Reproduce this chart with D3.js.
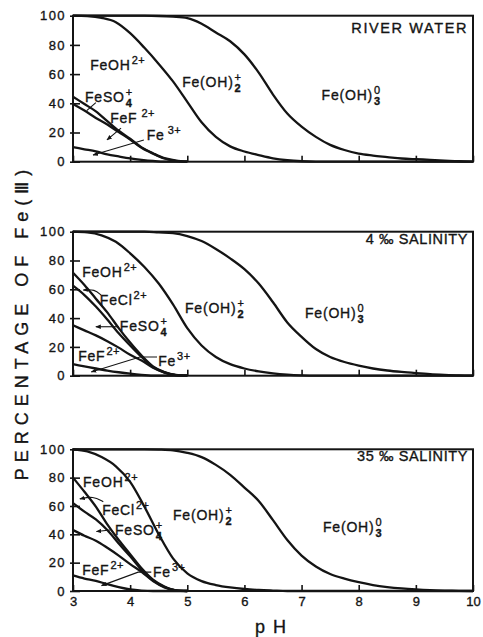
<!DOCTYPE html>
<html>
<head>
<meta charset="utf-8">
<script src="https://cdn.jsdelivr.net/npm/d3@7"></script>
<style>
  body { margin: 0; background: #fff; }
  svg { display: block; }
  text { font-family: "Liberation Sans", Arial, Helvetica, sans-serif; fill: #141414;
         stroke: #141414; stroke-width: 0.35; paint-order: stroke; }
</style>
</head>
<body>
<svg id="chart" width="483" height="637"></svg>
<script>
// pH grids shared by the curves
const phGrid = [3, 3.25, 3.5, 3.75, 4, 4.25, 4.5, 4.75, 5, 5.25, 5.5, 5.75, 6, 6.25, 6.5, 6.75,
                7, 7.25, 7.5, 7.75, 8, 8.25, 8.5, 8.75, 9, 9.25, 9.5, 9.75, 10];
const phLow = [3, 3.2, 3.4, 3.6, 3.8, 4.0, 4.2, 4.4, 4.6, 4.8, 5.0];

// Cumulative percentages of Fe(III): each curve is the boundary between two species fields.
// River water
const riverBelowFeOH3 = [100, 100, 100, 100, 100, 100, 99.8, 99.3, 98.3, 94.5, 88.5, 82.5, 73.5, 61, 46, 33,
                         24, 17, 11.5, 8, 5.5, 4.2, 3.2, 2.2, 1.7, 1.3, 0.8, 0.3, 0];
const riverBelowFeOH2 = [100, 99.7, 98.5, 95.5, 88, 78, 67, 55, 41, 27, 17, 10.5, 7, 4.5, 2.3, 1,
                         0.3, 0, 0, 0, 0, 0, 0, 0, 0, 0, 0, 0, 0];
const riverBelowFeOH  = [44.5, 39.5, 34.5, 27.8, 21.2, 15.7, 9.8, 5.8, 2.4, 0.8, 0];
const riverBelowFeSO4 = [39.5, 35, 30, 25.5, 20.3, 15.2, 9.5, 5.5, 2.2, 0.6, 0];
const riverBelowFeF   = [10, 8.5, 7, 5, 3.6, 2.3, 1.3, 0.5, 0, 0, 0];

// 4 per mil salinity
const s4BelowFeOH3 = [100, 100, 100, 100, 100, 100, 99.5, 99, 97, 93.5, 88, 81.5, 74, 64, 51, 37,
                      27, 18.5, 13, 9.5, 7, 5, 3.6, 2.6, 1.8, 1.1, 0.6, 0.2, 0];
const s4BelowFeOH2 = [100, 99.5, 97.5, 93, 85, 75.5, 64, 49.5, 33, 21, 13, 8, 5, 3, 1.6, 0.7,
                      0.2, 0, 0, 0, 0, 0, 0, 0, 0, 0, 0, 0, 0];
const s4BelowFeOH  = [71.5, 63, 53.5, 44, 33, 23, 14, 6.5, 2.5, 0.5, 0];
const s4BelowFeCl  = [62.5, 56, 48, 39, 29.5, 21, 13, 6, 2.3, 0.4, 0];
const s4BelowFeSO4 = [35, 31.5, 28, 24, 19.5, 14.5, 10.5, 5.5, 2.2, 0.4, 0];
const s4BelowFeF   = [8, 6.5, 5, 3.6, 2.4, 1.4, 0.6, 0.1, 0, 0, 0];

// 35 per mil salinity
const s35BelowFeOH3 = [100, 100, 100, 100, 100, 100, 99.8, 99.3, 97.5, 94.5, 89, 82, 73, 63.5, 50, 36,
                       25, 17.3, 12, 8.7, 6.2, 4.2, 2.8, 1.8, 1.1, 0.6, 0.3, 0.1, 0];
const s35BelowFeOH2 = [100, 98.5, 94.5, 88, 77, 59.5, 40, 23, 12.5, 7, 4.2, 2.5, 1.4, 0.7, 0.3, 0,
                       0, 0, 0, 0, 0, 0, 0, 0, 0, 0, 0, 0, 0];
const s35BelowFeOH  = [80, 70, 59.5, 47, 36, 26, 16, 8, 3.2, 0.5, 0];
const s35BelowFeCl  = [62, 56, 50.5, 43, 33.5, 24.5, 15, 7.5, 2.8, 0.4, 0];
const s35BelowFeSO4 = [43, 39, 35.5, 30.5, 25, 19, 13.5, 7, 2.6, 0.4, 0];
const s35BelowFeF   = [11, 8.8, 7.2, 4.8, 2.7, 1.1, 0.3, 0, 0, 0, 0];

// Axis ticks
const xTicks = [3, 4, 5, 6, 7, 8, 9, 10];
const yTicks = [0, 20, 40, 60, 80, 100];

const svg = d3.select("#chart");
const x = d3.scaleLinear().domain([3, 10]).range([73, 473]);

const panels = [
  { title: "RIVER WATER", top: 15.7, bottom: 161.7, showX: false,
    hydroxo: [riverBelowFeOH3, riverBelowFeOH2],
    complexes: [riverBelowFeOH, riverBelowFeSO4, riverBelowFeF] },
  { title: "4 \u2030 SALINITY", top: 231.7, bottom: 375.7, showX: false,
    hydroxo: [s4BelowFeOH3, s4BelowFeOH2],
    complexes: [s4BelowFeOH, s4BelowFeCl, s4BelowFeSO4, s4BelowFeF] },
  { title: "35 \u2030 SALINITY", top: 449.3, bottom: 591, showX: true,
    hydroxo: [s35BelowFeOH3, s35BelowFeOH2],
    complexes: [s35BelowFeOH, s35BelowFeCl, s35BelowFeSO4, s35BelowFeF] }
];

// species labels and leader lines, in pH / percent units
const annotations = [
  { labels: [
      { t: ["FeOH", null, "2+"], p: 3.30, v: 63 },
      { t: ["Fe(OH)", "2", "+"], p: 4.91, v: 51.3 },
      { t: ["Fe(OH)", "3", "0"], p: 7.35, v: 42.3 },
      { t: ["FeSO", "4", "+"], p: 3.21, v: 41.2 },
      { t: ["FeF", null, "2+"], p: 3.65, v: 26.4, gap: 4 },
      { t: ["Fe", null, "3+"], p: 4.29, v: 14.9, gap: 3 } ],
    leaders: [
      { pts: [[3.40, 40.5], [3.24, 35]], arrow: false },
      { pts: [[3.84, 23], [3.595, 14.9]], arrow: true },
      { pts: [[4.24, 14.9], [3.35, 4.6]], arrow: true } ] },
  { labels: [
      { t: ["FeOH", null, "2+"], p: 3.16, v: 68.5 },
      { t: ["FeCl", null, "2+"], p: 3.47, v: 49 },
      { t: ["FeSO", "4", "+"], p: 3.82, v: 31 },
      { t: ["FeF", null, "2+"], p: 3.09, v: 10.2 },
      { t: ["Fe", null, "3+"], p: 4.49, v: 6.7 },
      { t: ["Fe(OH)", "2", "+"], p: 4.96, v: 43.5 },
      { t: ["Fe(OH)", "3", "0"], p: 7.06, v: 40 } ],
    leaders: [
      { pts: [[3.49, 56], [3.38, 60], [3.18, 59.5]], arrow: true, curved: true },
      { pts: [[3.80, 34], [3.40, 34]], arrow: true },
      { pts: [[4.47, 13], [4.17, 13], [3.32, 2.6]], arrow: true } ] },
  { labels: [
      { t: ["FeOH", null, "2+"], p: 3.175, v: 73.4 },
      { t: ["FeCl", null, "2+"], p: 3.51, v: 53.6 },
      { t: ["FeSO", "4", "+"], p: 3.735, v: 39.5 },
      { t: ["FeF", null, "2+"], p: 3.16, v: 11.3 },
      { t: ["Fe", null, "3+"], p: 4.40, v: 9.9 },
      { t: ["Fe(OH)", "2", "+"], p: 4.75, v: 50 },
      { t: ["Fe(OH)", "3", "0"], p: 7.375, v: 41.6 } ],
    leaders: [
      { pts: [[3.53, 63], [3.35, 67], [3.12, 65]], arrow: true, curved: true },
      { pts: [[3.65, 43], [3.41, 42]], arrow: true },
      { pts: [[4.37, 13.3], [4.14, 13.3], [3.5, 3.8]], arrow: true } ] }
];

// arrowhead marker
svg.append("defs").append("marker")
  .attr("id", "arrow").attr("viewBox", "0 0 10 10").attr("refX", 9).attr("refY", 5)
  .attr("markerWidth", 5).attr("markerHeight", 5).attr("orient", "auto-start-reverse")
  .append("path").attr("d", "M0,1 L10,5 L0,9 Z").attr("fill", "#141414");

function species(g, px, py, parts, gap) {
  const [base, sub, sup] = parts;
  const t = g.append("text").attr("x", px).attr("y", py)
    .attr("font-size", 14).attr("letter-spacing", 0.8).text(base);
  const w = t.node().getComputedTextLength() + (gap || 1);
  if (sub) g.append("text").attr("x", px + w).attr("y", py + 5)
    .attr("font-size", 11).attr("font-weight", "bold").text(sub);
  if (sup) g.append("text").attr("x", px + w).attr("y", py - 6)
    .attr("font-size", 11).attr("letter-spacing", 0.5).text(sup);
}

panels.forEach((panel, i) => {
  const y = d3.scaleLinear().domain([0, 100]).range([panel.bottom, panel.top]);
  const g = svg.append("g");

  const line = d3.line()
    .x(d => x(d[0])).y(d => y(d[1]))
    .curve(d3.curveMonotoneX);

  // hydroxo boundaries
  panel.hydroxo.forEach(arr => {
    g.append("path")
      .datum(phGrid.map((p, k) => [p, arr[k]]))
      .attr("d", line).attr("fill", "none")
      .attr("stroke", "#141414").attr("stroke-width", 2.3);
  });
  // inorganic complex boundaries
  panel.complexes.forEach(arr => {
    g.append("path")
      .datum(phLow.map((p, k) => [p, arr[k]]))
      .attr("d", line).attr("fill", "none")
      .attr("stroke", "#141414").attr("stroke-width", 2.3);
  });

  // frame
  g.append("rect")
    .attr("x", x(3)).attr("y", y(100))
    .attr("width", x(10) - x(3)).attr("height", y(0) - y(100))
    .attr("fill", "none").attr("stroke", "#141414").attr("stroke-width", 2);

  // y axis
  const ya = g.append("g").attr("transform", `translate(${x(3)},0)`)
    .call(d3.axisLeft(y).tickValues(yTicks).tickSize(-7).tickPadding(7));
  ya.select(".domain").remove();
  ya.selectAll(".tick line").attr("x1", -3).attr("x2", 7)
    .attr("stroke", "#141414").attr("stroke-width", 1.6);
  ya.selectAll(".tick text").attr("font-size", 13).attr("letter-spacing", 1.4)
    .attr("font-family", null).attr("fill", "#141414");

  // x axis
  const xa = g.append("g").attr("transform", `translate(0,${y(0)})`)
    .call(d3.axisBottom(x).tickValues(xTicks).tickSize(-6).tickPadding(6)
      .tickFormat(panel.showX ? d3.format("d") : () => ""));
  xa.select(".domain").remove();
  xa.selectAll(".tick line").attr("stroke", "#141414").attr("stroke-width", 1.6);
  xa.selectAll(".tick text").attr("font-size", 13).attr("font-family", null)
    .attr("fill", "#141414");

  // panel title
  g.append("text").attr("x", 468).attr("y", y(i === 0 ? 88.3 : 91.6))
    .attr("text-anchor", "end").attr("font-size", 14.5)
    .attr("letter-spacing", i === 0 ? 1.6 : 0.6).text(panel.title);

  // species labels and leaders
  const ann = annotations[i];
  ann.labels.forEach(l => species(g, x(l.p), y(l.v), l.t, l.gap));
  ann.leaders.forEach(ld => {
    const pl = d3.line().x(d => x(d[0])).y(d => y(d[1]))
      .curve(ld.curved ? d3.curveBasis : d3.curveLinear);
    const path = g.append("path").attr("d", pl(ld.pts))
      .attr("fill", "none").attr("stroke", "#141414").attr("stroke-width", 1.1);
    if (ld.arrow) path.attr("marker-end", "url(#arrow)");
  });
});

// axis titles
svg.append("text")
  .attr("transform", "translate(28,322) rotate(-90)")
  .attr("text-anchor", "middle").attr("font-size", 18).attr("letter-spacing", 6)
  .text("PERCENTAGE OF Fe(\u2162)");

svg.append("text").attr("x", 255).attr("y", 633)
  .attr("font-size", 18).attr("letter-spacing", 8).text("pH");
</script>
</body>
</html>
